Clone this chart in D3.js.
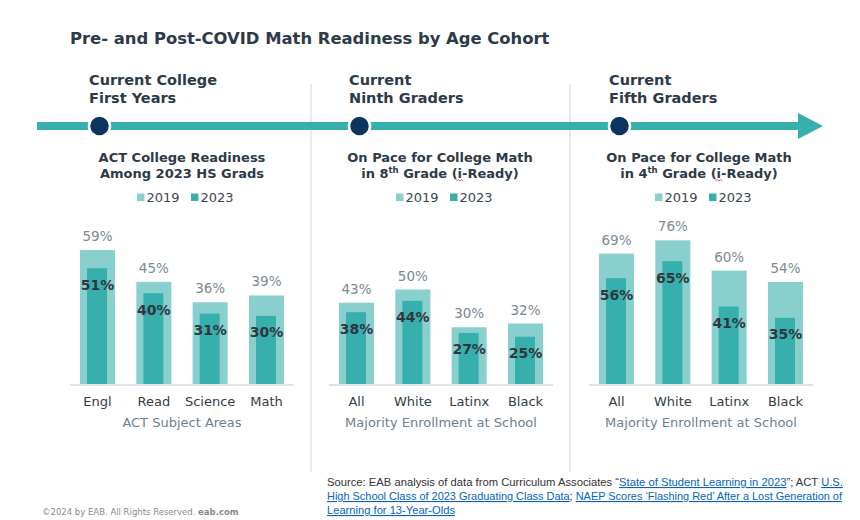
<!DOCTYPE html>
<html>
<head>
<meta charset="utf-8">
<style>
  body { margin: 0; background: #ffffff; }
  svg { display: block; }
  text { font-family: "DejaVu Sans", Verdana, sans-serif; }
  .src { font-family: "Liberation Sans", Arial, sans-serif; }
</style>
<script src="https://d3js.org/d3.v7.min.js"></script>
</head>
<body>
<script>
// chart values
const chartTitle = 'Pre- and Post-COVID Math Readiness by Age Cohort';
const cohortHeads = [['Current College', 'First Years'], ['Current', 'Ninth Graders'], ['Current', 'Fifth Graders']];
const years = ['2019', '2023'];

const actSubjects = ['Engl', 'Read', 'Science', 'Math'];
const act2019 = [59, 45, 36, 39];
const act2023 = [51, 40, 31, 30];

const enrollment = ['All', 'White', 'Latinx', 'Black'];
const grade8_2019 = [43, 50, 30, 32];
const grade8_2023 = [38, 44, 27, 25];
const grade4_2019 = [69, 76, 60, 54];
const grade4_2023 = [56, 65, 41, 35];

const axisTitles = ['ACT Subject Areas', 'Majority Enrollment at School', 'Majority Enrollment at School'];

const W = 860, H = 520;
const c2019 = '#88cfcd', c2023 = '#37afad';
const dark = '#2d3a47';

const svg = d3.select('body').append('svg')
  .attr('width', W).attr('height', H);

// title
svg.append('text')
  .attr('x', 70).attr('y', 44)
  .attr('font-size', 16.4).attr('font-weight', 'bold')
  .attr('fill', dark)
  .text(chartTitle);

// separators
[311, 570].forEach(x => {
  svg.append('line')
    .attr('x1', x).attr('x2', x).attr('y1', 84).attr('y2', 472)
    .attr('stroke', '#d4d4d4').attr('stroke-width', 1);
});

// timeline arrow
const lineY = 126;
svg.append('line')
  .attr('x1', 37).attr('x2', 800).attr('y1', lineY).attr('y2', lineY)
  .attr('stroke', '#37afad').attr('stroke-width', 8);
svg.append('path')
  .attr('d', `M798,${lineY - 13}L823,${lineY}L798,${lineY + 13}Z`)
  .attr('fill', '#37afad');

// panels: layout only; data comes from the arrays above
const panels = [
  { cats: actSubjects, v19: act2019, v23: act2023, x0: 80, x1: 284, pxPct: 2.27, headX: 89, cx: 182, legX: 185,
    sub: [['ACT College Readiness'], ['Among 2023 HS Grads']] },
  { cats: enrollment, v19: grade8_2019, v23: grade8_2023, x0: 339, x1: 543, pxPct: 1.89, headX: 349, cx: 440, legX: 444,
    sub: [['On Pace for College Math'], ['in 8', 'th', ' Grade (i-Ready)']] },
  { cats: enrollment, v19: grade4_2019, v23: grade4_2023, x0: 599, x1: 803, pxPct: 1.89, headX: 609, cx: 699, legX: 703,
    sub: [['On Pace for College Math'], ['in 4', 'th', ' Grade (i-Ready)']] }
];

const base = 384;

panels.forEach((p, i) => {
  const g = svg.append('g');

  // cohort header
  cohortHeads[i].forEach((t, k) => {
    g.append('text')
      .attr('x', p.headX).attr('y', 85 + k * 17.5)
      .attr('font-size', 14.5).attr('font-weight', 'bold')
      .attr('fill', dark).text(t);
  });

  // timeline marker
  g.append('circle')
    .attr('cx', p.headX + 10.5).attr('cy', lineY).attr('r', 10.5)
    .attr('fill', '#0b345e').attr('stroke', '#ffffff').attr('stroke-width', 2.5);

  // subtitle
  p.sub.forEach((parts, k) => {
    const t = g.append('text')
      .attr('x', p.cx).attr('y', 162 + k * 16)
      .attr('text-anchor', 'middle')
      .attr('font-size', 13).attr('font-weight', 'bold')
      .attr('fill', dark);
    parts.forEach((s, j) => {
      const ts = t.append('tspan').text(s);
      if (s === 'th') ts.attr('font-size', 8.5).attr('dy', -5);
      if (j === 2) ts.attr('dy', 5);
    });
    // spell-check squiggle under the "i" of i-Ready
    const full = parts.join('');
    const pos = full.indexOf('(i');
    if (pos >= 0) {
      const ext = t.node().getExtentOfChar(pos + 1);
      const sx = ext.x + ext.width / 2 - 3.5, sy = 181;
      g.append('path')
        .attr('d', `M${sx},${sy}l1.75,-1.5l1.75,1.5l1.75,-1.5l1.75,1.5`)
        .attr('fill', 'none').attr('stroke', '#e23b3b').attr('stroke-width', 0.9);
    }
  });

  // legend
  years.forEach((y, k) => {
    const lx = p.legX - 48 + k * 54;
    g.append('rect')
      .attr('x', lx).attr('y', 193.5).attr('width', 7.5).attr('height', 7.5)
      .attr('fill', k === 0 ? c2019 : c2023);
    g.append('text')
      .attr('x', lx + 9.5).attr('y', 202)
      .attr('font-size', 13).attr('fill', '#3c4650').text(y);
  });

  // scales
  const x = d3.scaleBand().domain(p.cats).range([p.x0, p.x1]).paddingInner(0.378).paddingOuter(0);
  const y = d3.scaleLinear().domain([0, 100]).range([base, base - 100 * p.pxPct]);
  const bw = x.bandwidth();
  const iw = bw * 0.57;

  // baseline
  g.append('line')
    .attr('x1', p.x0 - 10).attr('x2', p.x1 + 10).attr('y1', base + 1).attr('y2', base + 1)
    .attr('stroke', '#dde3e8').attr('stroke-width', 2);

  const rows = p.cats.map((c, k) => ({ c, a: p.v19[k], b: p.v23[k] }));

  g.selectAll('.b19').data(rows).join('rect')
    .attr('x', d => x(d.c)).attr('width', bw)
    .attr('y', d => y(d.a)).attr('height', d => base - y(d.a))
    .attr('fill', c2019);

  g.selectAll('.b23').data(rows).join('rect')
    .attr('x', d => x(d.c) + (bw - iw) / 2 - 0.5).attr('width', iw)
    .attr('y', d => y(d.b)).attr('height', d => base - y(d.b))
    .attr('fill', c2023);

  g.selectAll('.l19').data(rows).join('text')
    .attr('x', d => x(d.c) + bw / 2).attr('y', d => y(d.a) - 9)
    .attr('text-anchor', 'middle').attr('font-size', 13.5)
    .attr('fill', '#7d8893')
    .text(d => d.a + '%');

  g.selectAll('.l23').data(rows).join('text')
    .attr('x', d => x(d.c) + bw / 2).attr('y', d => y(d.b) + 21.5)
    .attr('text-anchor', 'middle').attr('font-size', 14).attr('font-weight', 'bold')
    .attr('fill', '#2e3640')
    .text(d => d.b + '%');

  // category axis
  const ax = g.append('g')
    .attr('transform', `translate(0,${base})`)
    .call(d3.axisBottom(x).tickSize(0).tickPadding(13));
  ax.select('.domain').remove();
  ax.selectAll('text')
    .attr('font-family', '"DejaVu Sans", Verdana, sans-serif')
    .attr('font-size', 13).attr('fill', '#333c46');

  g.append('text')
    .attr('x', (p.x0 + p.x1) / 2).attr('y', 427)
    .attr('text-anchor', 'middle').attr('font-size', 13)
    .attr('fill', '#6e7f8f').text(axisTitles[i]);
});

// footer
const foot = svg.append('text')
  .attr('x', 42).attr('y', 515)
  .attr('font-size', 8.5).attr('fill', '#8a8a8a');
foot.append('tspan').text('©2024 by EAB. All Rights Reserved. ');
foot.append('tspan').attr('font-weight', 'bold').text('eab.com');

const srcLines = [
  [['Source: EAB analysis of data from Curriculum Associates “', 0], ['State of Student Learning in 2023', 1], ['”; ACT ', 0], ['U.S.', 1]],
  [['High School Class of 2023 Graduating Class Data', 1], ['; ', 0], ['NAEP Scores ‘Flashing Red’ After a Lost Generation of', 1]],
  [['Learning for 13-Year-Olds', 1]]
];
const srcWidths = [516, 515, 128];
srcLines.forEach((parts, k) => {
  const t = svg.append('text').attr('class', 'src')
    .attr('x', 327).attr('y', 486 + k * 14)
    .attr('font-size', 11).attr('fill', '#333333')
    .attr('textLength', srcWidths[k]).attr('lengthAdjust', 'spacingAndGlyphs');
  parts.forEach(([s, link]) => {
    const ts = t.append('tspan').text(s);
    if (link) ts.attr('fill', '#0563c1').attr('text-decoration', 'underline');
  });
});
</script>
</body>
</html>
